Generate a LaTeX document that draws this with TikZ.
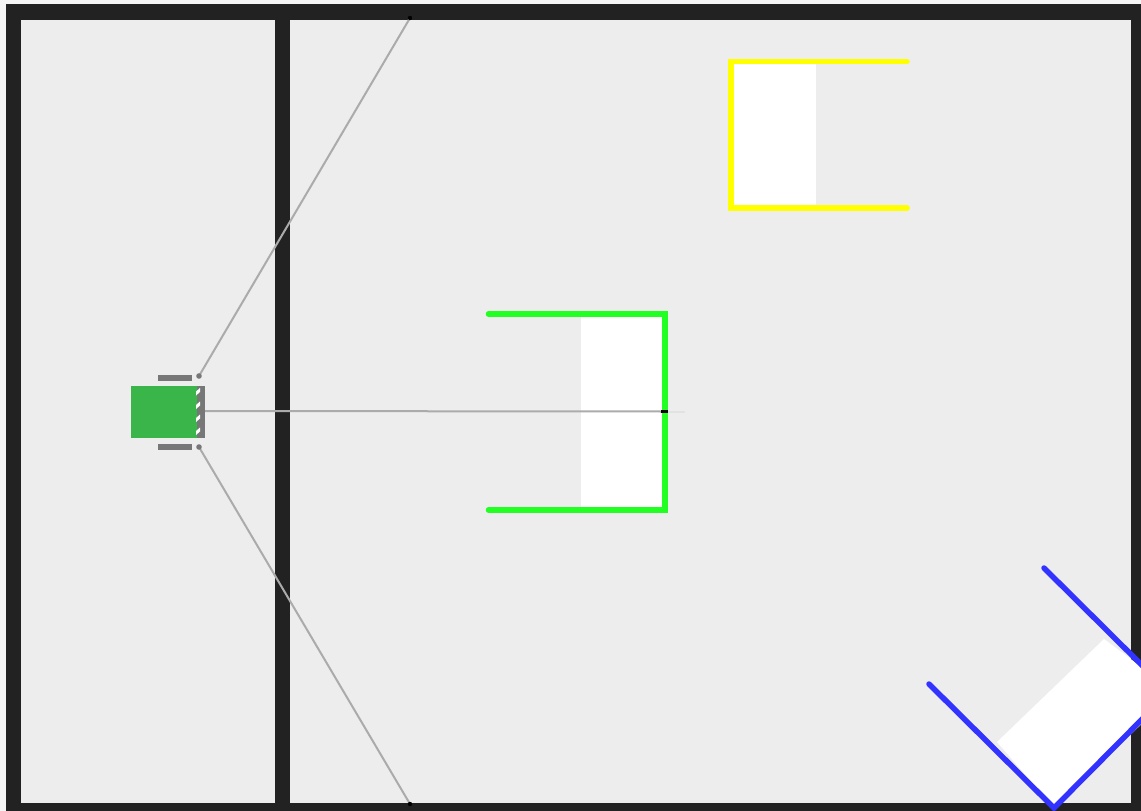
\documentclass[tikz,border=0pt]{standalone}
\definecolor{floorgray}{HTML}{EDEDED}
\definecolor{wallblack}{HTML}{222222}
\definecolor{robotgreen}{HTML}{39B54A}
\definecolor{partgray}{HTML}{777777}
\definecolor{raygray}{HTML}{ABABAB}
\definecolor{gatelime}{HTML}{22FF22}
\definecolor{gateyellow}{HTML}{FFFF00}
\definecolor{gateblue}{HTML}{3333FF}
\tikzset{
  wall/.style={fill=wallblack,draw=none},
  gateline/.style={line width=5.5pt,line cap=round,line join=miter},
  ray/.style={draw=raygray,line width=2pt},
  hit/.style={fill=black,draw=none},
  wheel/.style={fill=partgray,draw=none},
}
\begin{document}
\begin{tikzpicture}[x=1pt,y=-1pt]
\useasboundingbox (0,0) rectangle (1141,811);
\clip (0,0) rectangle (1141,811);
% floor
\fill[white!96!black] (0,0) rectangle (1141,811);
\fill[floorgray] (6,4) rectangle (1141,811);
% walls
\fill[wall] (6,4) rectangle (1141,19.5);
\fill[wall] (6,803) rectangle (1141,811);
\fill[wall] (6,4) rectangle (21,811);
\fill[wall] (1131,4) rectangle (1141,811);
\fill[wall] (275,4) rectangle (290,811);
% white gate interiors
\fill[white] (581,314) rectangle (665,510);
\fill[white] (732,62) rectangle (816,208);
\fill[white] (997,742) -- (1104,639) -- (1175,692) -- (1054,808) -- cycle;
% rays
\coordinate (sensor) at (199,411);
\coordinate (rayTop) at (410,18);
\coordinate (rayBottom) at (410,804);
\coordinate (rayMid) at (664,411.5);
\coordinate (rayEnd) at (685,411.5);
\draw[ray] (199,376) -- (rayTop);
\draw[ray] (199,447) -- (rayBottom);
\draw[ray] (sensor) -- (rayMid);
\draw[draw=raygray!35,line width=2pt] (rayMid) -- (rayEnd);
\fill[hit] (rayTop) circle (2.2pt);
\fill[hit] (rayBottom) circle (2.2pt);
% gates
\draw[gateline,gatelime] (488.5,314) -- (665,314) -- (665,510) -- (488.5,510);
\draw[gateline,gateyellow] (907,61.5) -- (731,61.5) -- (731,208) -- (907,208);
\draw[gateline,gateblue] (929,684) -- (1054,808) -- (1175,686);
\draw[gateline,gateblue] (1044,568) -- (1175,698);
\fill[hit] (661,410) rectangle (668,413);
% robot
\fill[wheel] (197,386) rectangle (205,438);
\fill[robotgreen] (131,385.5) rectangle (197,438);
\fill[wheel] (158,374.5) rectangle (191.5,380.5);
\fill[wheel] (158,443.5) rectangle (191.5,449.5);
\fill[partgray] (199,376) circle (2.8pt);
\fill[partgray] (199,447) circle (2.8pt);
\foreach \n in {389,402.5,415.5,428.5}
  \fill[white] (196,\n+2.5) -- (200,\n-1) -- (200,\n+3) -- (196,\n+6.5) -- cycle;
\end{tikzpicture}
\end{document}
